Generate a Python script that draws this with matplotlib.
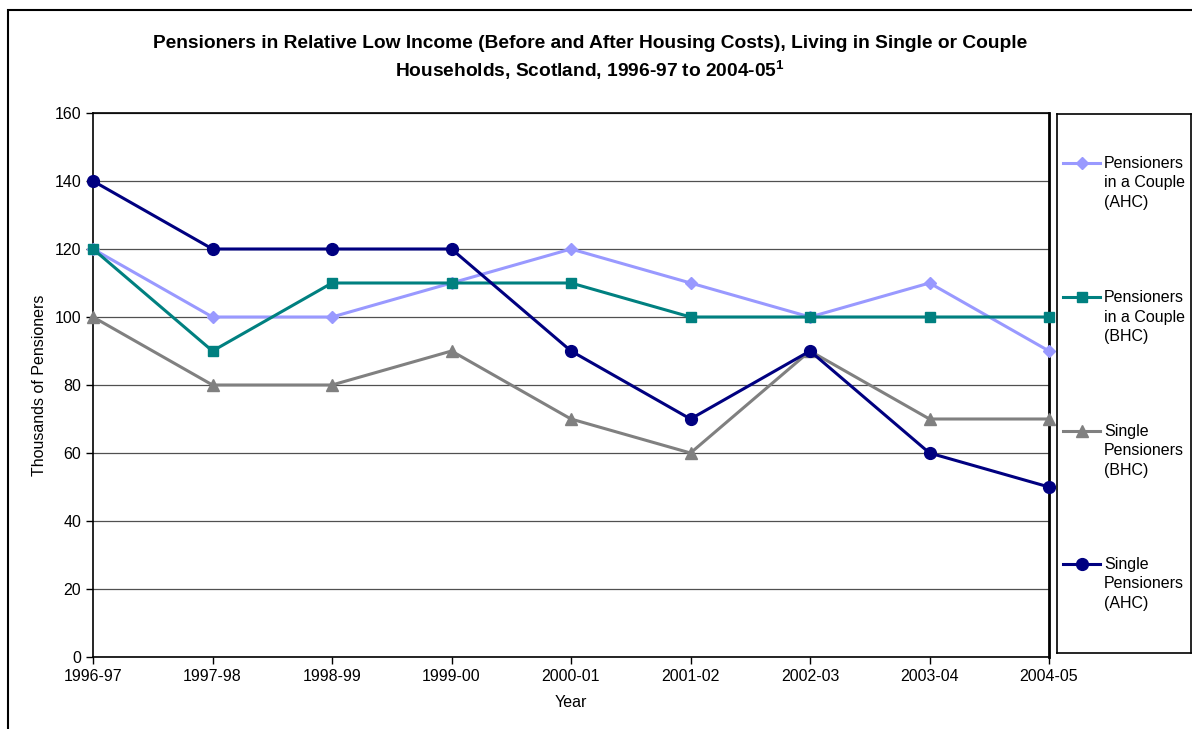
import matplotlib
matplotlib.use("Agg")
import matplotlib.pyplot as plt
from matplotlib.lines import Line2D
from matplotlib.patches import Rectangle

plt.rcParams["font.family"] = ["Liberation Sans", "DejaVu Sans"]
plt.rcParams["mathtext.fontset"] = "custom"
plt.rcParams["mathtext.rm"] = "Liberation Sans"
plt.rcParams["mathtext.bf"] = "Liberation Sans:bold"

# Data (thousands of pensioners)
years = ["1996-97", "1997-98", "1998-99", "1999-00", "2000-01",
         "2001-02", "2002-03", "2003-04", "2004-05"]
couple_ahc = [120, 100, 100, 110, 120, 110, 100, 110, 90]
couple_bhc = [120, 90, 110, 110, 110, 100, 100, 100, 100]
single_bhc = [100, 80, 80, 90, 70, 60, 90, 70, 70]
single_ahc = [140, 120, 120, 120, 90, 70, 90, 60, 50]

series = [
    ("Pensioners\nin a Couple\n(AHC)", couple_ahc, "#9999FF", "D", 6.5),
    ("Pensioners\nin a Couple\n(BHC)", couple_bhc, "#008080", "s", 7.5),
    ("Single\nPensioners\n(BHC)", single_bhc, "#808080", "^", 8),
    ("Single\nPensioners\n(AHC)", single_ahc, "#000080", "o", 8.5),
]

fig = plt.figure(figsize=(11.92, 7.29), dpi=100)

# outer chart border (only left/top visible in the original crop)
fig.add_artist(Rectangle((8 / 1192, -0.05), 1.2, 1 - 10 / 729 + 0.05,
                         transform=fig.transFigure, fill=False,
                         edgecolor="black", linewidth=1.5))

ax = fig.add_axes([93 / 1192, 1 - 657 / 729, (1049 - 93) / 1192, (657 - 113) / 729])
x = list(range(len(years)))
for label, vals, color, marker, ms in series:
    ax.plot(x, vals, color=color, marker=marker, markersize=ms,
            linewidth=2.2, label=label, clip_on=False, zorder=3)

ax.set_xlim(0, len(years) - 1)
ax.set_ylim(0, 160)
ax.set_yticks(range(0, 161, 20))
ax.set_xticks(x)
ax.set_xticklabels(years)
ax.tick_params(direction="out", length=5, width=1, labelsize=11.5, colors="black")
ax.yaxis.grid(True, color="#505050", linewidth=0.9)
ax.set_axisbelow(True)
for sp in ax.spines.values():
    sp.set_color("black")
    sp.set_linewidth(1.2)
ax.spines["right"].set_linewidth(2)
ax.set_xlabel("Year", fontsize=11.5, labelpad=8)
ax.set_ylabel("Thousands of Pensioners", fontsize=11.5, labelpad=5)

fig.text(590 / 1192, 1 - 43 / 729,
         "Pensioners in Relative Low Income (Before and After Housing Costs), Living in Single or Couple",
         ha="center", va="center", fontsize=13.8, fontweight="bold")
fig.text(590 / 1192, 1 - 70 / 729,
         "Households, Scotland, 1996-97 to 2004-05$^{\\mathbf{1}}$",
         ha="center", va="center", fontsize=13.8, fontweight="bold")

# legend box on the right
lax = fig.add_axes([1057 / 1192, 1 - 653 / 729, (1191 - 1057) / 1192, (653 - 114) / 729])
lax.set_xlim(0, 1)
lax.set_ylim(0, 1)
lax.set_xticks([])
lax.set_yticks([])
for sp in lax.spines.values():
    sp.set_color("black")
    sp.set_linewidth(1.2)
entry_y = [0.909, 0.660, 0.412, 0.165]
for (label, vals, color, marker, ms), ey in zip(series, entry_y):
    lax.add_line(Line2D([0.045, 0.32], [ey, ey], color=color, linewidth=2.2))
    lax.add_line(Line2D([0.187], [ey], color=color, marker=marker, markersize=ms))
    lax.text(0.35, ey + 0.0135, label, ha="left", va="top", fontsize=11.5,
             linespacing=1.38)

fig.savefig("out.png", dpi=100)
